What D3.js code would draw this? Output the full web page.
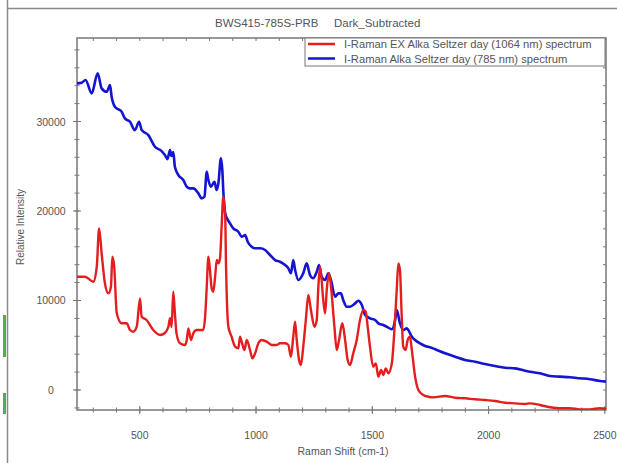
<!DOCTYPE html>
<html>
<head>
<meta charset="utf-8">
<script src="https://cdn.jsdelivr.net/npm/d3@7"></script>
<style>
  body { margin: 0; background: #fff; }
  svg { font-family: "Liberation Sans", Arial, sans-serif; }
</style>
</head>
<body>
<div id="canvas"></div>
<script>
// spectra (Raman shift cm-1, relative intensity)
const shift785 = [230, 250, 267, 293, 319, 336, 358, 372, 379, 393, 422, 436, 458, 479, 497, 508, 537, 565, 594, 608, 619, 630, 636, 644, 651, 666, 687, 702, 716, 730, 752, 766, 778, 788, 795, 806, 821, 831, 838, 849, 855, 859, 867, 888, 902, 924, 938, 953, 964, 981, 996, 1017, 1039, 1060, 1082, 1103, 1125, 1139, 1150, 1160, 1168, 1182, 1203, 1218, 1232, 1246, 1261, 1271, 1282, 1297, 1311, 1322, 1340, 1354, 1365, 1375, 1390, 1404, 1426, 1440, 1455, 1469, 1490, 1512, 1526, 1547, 1562, 1584, 1598, 1605, 1619, 1633, 1648, 1655, 1670, 1684, 1705, 1727, 1748, 1770, 1813, 1856, 1899, 1942, 1985, 2028, 2071, 2114, 2157, 2178, 2221, 2264, 2307, 2350, 2393, 2436, 2479, 2505];
const intensity785 = [34260, 34330, 34630, 33140, 35380, 33700, 33320, 34070, 32760, 31640, 31090, 30350, 29970, 29040, 29970, 29040, 28480, 27180, 26700, 26250, 25800, 26810, 26140, 26580, 24940, 24020, 23460, 22710, 22530, 22530, 21970, 21410, 21590, 24380, 23460, 22710, 23270, 22340, 23090, 25880, 24570, 22340, 19740, 18620, 18060, 17680, 17120, 17310, 16570, 16010, 15830, 15830, 15640, 15080, 14520, 14330, 13960, 13590, 13040, 14520, 13400, 12290, 13040, 14150, 12850, 12480, 13210, 13960, 12660, 12290, 13040, 12290, 10420, 10800, 10800, 10050, 9300, 9300, 9680, 9970, 9490, 8380, 8010, 7820, 7450, 7260, 7070, 6780, 7820, 8940, 7450, 6700, 6890, 6700, 5950, 5590, 5220, 4910, 4770, 4550, 4100, 3720, 3350, 3160, 2900, 2680, 2490, 2420, 2160, 2040, 1870, 1560, 1490, 1420, 1310, 1200, 1010, 930];

const shift1064 = [230, 264, 300, 315, 325, 336, 350, 365, 376, 382, 390, 401, 422, 444, 458, 472, 487, 501, 508, 529, 558, 587, 608, 623, 630, 637, 644, 651, 658, 673, 695, 702, 709, 720, 730, 745, 773, 781, 788, 795, 802, 809, 816, 824, 831, 838, 845, 852, 859, 867, 871, 881, 895, 910, 924, 931, 938, 950, 960, 974, 984, 996, 1010, 1024, 1046, 1067, 1089, 1103, 1125, 1139, 1150, 1160, 1168, 1175, 1185, 1193, 1203, 1214, 1225, 1236, 1251, 1261, 1268, 1275, 1282, 1289, 1297, 1304, 1314, 1325, 1337, 1347, 1357, 1371, 1383, 1394, 1404, 1418, 1433, 1447, 1461, 1472, 1480, 1490, 1504, 1515, 1526, 1538, 1547, 1558, 1569, 1584, 1595, 1605, 1612, 1619, 1626, 1633, 1643, 1652, 1662, 1670, 1684, 1698, 1719, 1741, 1763, 1813, 1856, 1899, 1942, 1985, 2028, 2071, 2114, 2157, 2178, 2221, 2264, 2307, 2350, 2393, 2436, 2479, 2505];
const intensity1064 = [12660, 12660, 12100, 13770, 18060, 15270, 11920, 10800, 11540, 14890, 13770, 8570, 7450, 7450, 6700, 6510, 7070, 10240, 8190, 7820, 6700, 6140, 6370, 7070, 8010, 7070, 10980, 8570, 6330, 5220, 5030, 5590, 6890, 5590, 6330, 6700, 6700, 8190, 11540, 14890, 13400, 11360, 10980, 12660, 14520, 14150, 14710, 18240, 21590, 19740, 13770, 7070, 5950, 4840, 4660, 5950, 5400, 4470, 5590, 4470, 3540, 4100, 5220, 5590, 5400, 5030, 5030, 5220, 5220, 5030, 3720, 5950, 7630, 5590, 3350, 2790, 4840, 7820, 10610, 8940, 7070, 7820, 11540, 13770, 12290, 10050, 8570, 11170, 13040, 10800, 7070, 4470, 5590, 7450, 5590, 3350, 2790, 4100, 5590, 7820, 8940, 8750, 7070, 4840, 2600, 2980, 1490, 2230, 1680, 2420, 1870, 2980, 6700, 11170, 14150, 13400, 8570, 4840, 4470, 5590, 5950, 4470, 1490, 0, -560, -750, -820, -670, -860, -930, -1040, -1120, -1230, -1420, -1490, -1560, -1490, -1680, -1930, -2040, -2040, -2160, -2160, -2040, -2120];

const seriesNames = ["I-Raman EX Alka Seltzer day (1064 nm) spectrum", "I-Raman Alka Seltzer day (785 nm) spectrum"];
const xTicks = [500, 1000, 1500, 2000, 2500];
const yTicks = [0, 10000, 20000, 30000];
const titleParts = ["BWS415-785S-PRB", "Dark_Subtracted"];

const width = 617, height = 463;
const margin = {top: 38, left: 77, bottom: 53, right: 11};
const iwidth = width - margin.left - margin.right;
const iheight = height - margin.top - margin.bottom;

const svg = d3.select("#canvas").append("svg")
    .attr("width", width)
    .attr("height", height);

// outer frame of the screenshot + stray green marks at the left edge
svg.append("line").attr("x1", 7.5).attr("x2", 7.5).attr("y1", 0).attr("y2", height)
    .attr("stroke", "#8a8a8a").attr("stroke-width", 1.5);
svg.append("line").attr("x1", 7).attr("x2", width).attr("y1", 8.5).attr("y2", 8.5)
    .attr("stroke", "#8a8a8a").attr("stroke-width", 1.5);
svg.append("rect").attr("x", 3).attr("y", 315).attr("width", 3).attr("height", 42).attr("fill", "#4caf50");
svg.append("rect").attr("x", 3).attr("y", 393).attr("width", 3).attr("height", 21).attr("fill", "#4caf50");

svg.append("text")
    .attr("x", 215).attr("y", 27)
    .attr("font-size", 11.5).attr("fill", "#555")
    .text(titleParts[0]);
svg.append("text")
    .attr("x", 334).attr("y", 27)
    .attr("font-size", 11.5).attr("fill", "#555")
    .text(titleParts[1]);

const x = d3.scaleLinear().domain([230, 2505]).range([0, iwidth]);
const y = d3.scaleLinear().domain([-2235, 39330]).range([iheight, 0]);

const g = svg.append("g").attr("transform", `translate(${margin.left},${margin.top})`);

g.append("clipPath").attr("id", "plotclip")
    .append("rect").attr("width", iwidth).attr("height", iheight);

const axisColor = "#777";

// minor ticks
const xMinor = d3.range(300, 2501, 100);
const yMinor = d3.range(-2000, 39001, 2000);

g.selectAll(".xminor").data(xMinor).enter().append("line")
    .attr("x1", d => x(d)).attr("x2", d => x(d))
    .attr("y1", iheight - 2.5).attr("y2", iheight + 2.5)
    .attr("stroke", axisColor);
g.selectAll(".xminortop").data(xMinor).enter().append("line")
    .attr("x1", d => x(d)).attr("x2", d => x(d))
    .attr("y1", 0).attr("y2", 3)
    .attr("stroke", axisColor);
g.selectAll(".yminor").data(yMinor).enter().append("line")
    .attr("x1", -2.5).attr("x2", 2.5)
    .attr("y1", d => y(d)).attr("y2", d => y(d))
    .attr("stroke", axisColor);
g.selectAll(".yminorright").data(yMinor).enter().append("line")
    .attr("x1", iwidth - 3).attr("x2", iwidth)
    .attr("y1", d => y(d)).attr("y2", d => y(d))
    .attr("stroke", axisColor);

// major ticks + labels
g.selectAll(".xmajor").data(xTicks).enter().append("line")
    .attr("x1", d => x(d)).attr("x2", d => x(d))
    .attr("y1", iheight - 4).attr("y2", iheight + 4)
    .attr("stroke", axisColor);
g.selectAll(".xlabel").data(xTicks).enter().append("text")
    .attr("x", d => x(d)).attr("y", iheight + 29)
    .attr("text-anchor", "middle")
    .attr("font-size", 10.5).attr("fill", "#555")
    .text(d => d);

g.selectAll(".ymajor").data(yTicks).enter().append("line")
    .attr("x1", -4).attr("x2", 4)
    .attr("y1", d => y(d)).attr("y2", d => y(d))
    .attr("stroke", axisColor);
g.selectAll(".ylabel").data(yTicks).enter().append("text")
    .attr("x", -26).attr("y", d => y(d) + 4)
    .attr("text-anchor", "middle")
    .attr("font-size", 10.5).attr("fill", "#555")
    .text(d => d);

// plot frame
g.append("rect")
    .attr("width", iwidth).attr("height", iheight)
    .attr("fill", "none").attr("stroke", axisColor).attr("stroke-width", 1.5);

const line = d3.line()
    .x(d => x(d[0]))
    .y(d => y(d[1]))
    .curve(d3.curveMonotoneX);

const blueData = shift785.map((s, i) => [s, intensity785[i]]);
const redData = shift1064.map((s, i) => [s, intensity1064[i]]);

g.append("path").datum(blueData)
    .attr("d", line)
    .attr("clip-path", "url(#plotclip)")
    .attr("fill", "none").attr("stroke", "#1414d2").attr("stroke-width", 2.6)
    .attr("stroke-linejoin", "round");
g.append("path").datum(redData)
    .attr("d", line)
    .attr("clip-path", "url(#plotclip)")
    .attr("fill", "none").attr("stroke", "#e41e1e").attr("stroke-width", 2.4)
    .attr("stroke-linejoin", "round");

// axis titles
svg.append("text")
    .attr("transform", "translate(24,227) rotate(-90)")
    .attr("text-anchor", "middle")
    .attr("font-size", 10).attr("fill", "#555")
    .text("Relative Intensity");
svg.append("text")
    .attr("x", 343).attr("y", 455)
    .attr("text-anchor", "middle")
    .attr("font-size", 10.5).attr("fill", "#555")
    .text("Raman Shift (cm-1)");

// legend
const legend = svg.append("g").attr("transform", "translate(305,38)");
legend.append("rect")
    .attr("width", 300).attr("height", 28)
    .attr("fill", "#fff").attr("stroke", "#777");
const legendColors = ["#e41e1e", "#1414d2"];
seriesNames.forEach((name, i) => {
    legend.append("line")
        .attr("x1", 3).attr("x2", 30)
        .attr("y1", 6 + i * 14.5).attr("y2", 6 + i * 14.5)
        .attr("stroke", legendColors[i]).attr("stroke-width", 2.5);
    legend.append("text")
        .attr("x", 39).attr("y", 10 + i * 14.5)
        .attr("font-size", 11.2).attr("fill", "#555")
        .text(name);
});
</script>
</body>
</html>
